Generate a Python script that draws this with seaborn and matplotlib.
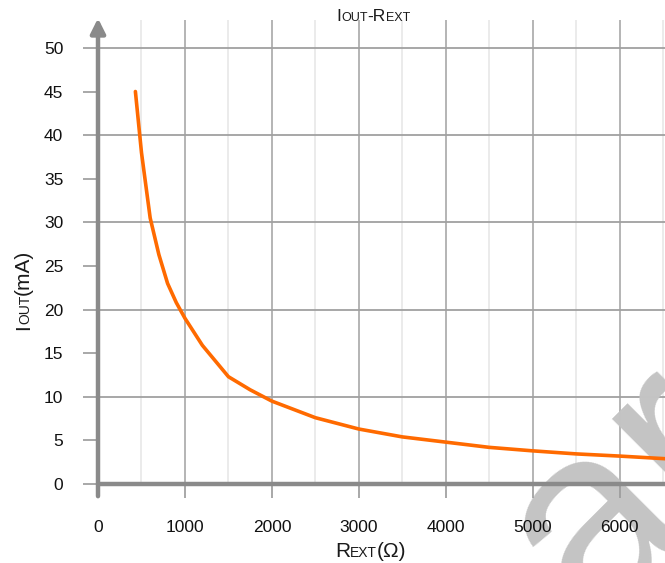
import matplotlib
matplotlib.use('Agg')
import matplotlib.pyplot as plt
import seaborn as sns
import pandas as pd

# IOUT vs REXT
rext = [430, 500, 600, 700, 800, 900, 1000, 1200, 1400, 1500, 1750, 2000,
        2500, 3000, 3500, 4000, 4500, 5000, 5500, 6000, 6520]
iout = [45, 38, 30.5, 26.3, 23, 20.8, 19, 15.9, 13.5, 12.3, 10.8, 9.5,
        7.6, 6.3, 5.4, 4.8, 4.2, 3.8, 3.45, 3.2, 2.9]
x_ticks = [0, 1000, 2000, 3000, 4000, 5000, 6000]
y_ticks = [0, 5, 10, 15, 20, 25, 30, 35, 40, 45, 50]

df = pd.DataFrame({'Rext': rext, 'Iout': iout})

sns.set_style('white')
plt.rcParams['font.family'] = ['Liberation Sans', 'DejaVu Sans']

W, H = 665, 563
fig = plt.figure(figsize=(W / 100, H / 100), dpi=100)
ax = fig.add_axes([98 / W, 79 / H, 567 / W, 464 / H])
ax.set_axisbelow(True)

# grid
for v in range(500, 7000, 1000):
    ax.axvline(v, color='#ebebeb', lw=1.4, zorder=0)
for v in x_ticks[1:]:
    ax.axvline(v, color='#a8a8a8', lw=1.2, zorder=0)
for v in [10, 20, 30, 40, 50]:
    ax.axhline(v, color='#a0a0a0', lw=1.3, zorder=0)

sns.lineplot(data=df, x='Rext', y='Iout', ax=ax, color='#ff6a00', lw=2.6, zorder=3)

ax.set_xlim(0, 6520)
ax.set_ylim(0, 53.2)
ax.set_xticks(x_ticks)
ax.set_yticks(y_ticks)
ax.tick_params(axis='y', length=11, width=1.2, color='#9a9a9a', pad=14,
               labelsize=12.5, labelcolor='#111111', left=True)
ax.tick_params(axis='x', length=10, width=1.2, color='#9a9a9a', pad=16,
               labelsize=12.5, labelcolor='#111111', bottom=True)
ax.set_xlabel('')
ax.set_ylabel('')
for s in ax.spines.values():
    s.set_visible(False)

# axis lines with arrow
ax.plot([0, 6520], [0, 0], color='#8a8a8a', lw=3.2, clip_on=False, zorder=4)
ax.annotate('', xy=(0, 53.4), xytext=(0, -1.4), xycoords='data',
            arrowprops=dict(arrowstyle='-|>', color='#8a8a8a', lw=3.2,
                            mutation_scale=22, shrinkA=0, shrinkB=0),
            annotation_clip=False, zorder=4)

# watermark in the lower right corner (under tick labels, over grid)
ax.text(592 / W, 1 - 625 / H, 'ar', transform=fig.transFigure, fontsize=190,
        rotation=45, rotation_mode='anchor', ha='left', va='baseline',
        color='#c4c4c4', clip_on=False, zorder=0.4)

# small-caps style labels
renderer = fig.canvas.get_renderer()


def sc_text(x, y, parts, rotation=0):
    for s, size in parts:
        t = fig.text(x / W, 1 - y / H, s, fontsize=size, rotation=rotation,
                     rotation_mode='anchor', ha='left', va='baseline',
                     color='#1a1a1a')
        bb = t.get_window_extent(renderer)
        if rotation == 0:
            x += bb.width
        else:
            y -= bb.height


sc_text(336, 21, [('I', 12.5), ('OUT', 9), ('-R', 12.5), ('EXT', 9)])
sc_text(335, 557, [('R', 15), ('EXT', 10), ('(Ω)', 15)])
sc_text(29, 330, [('I', 15), ('OUT', 10), ('(mA)', 15)], rotation=90)

fig.savefig('out.png', dpi=100)
